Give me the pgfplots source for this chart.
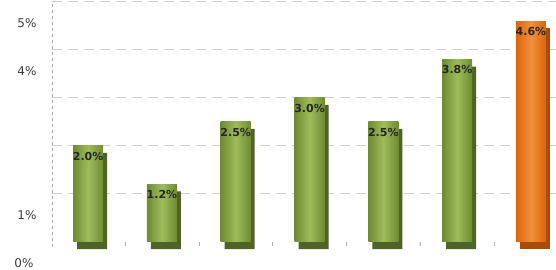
\documentclass[border=0pt]{standalone}
\usepackage{pgfplots}
\pgfplotsset{compat=1.18}
\usepackage{fontspec}
\setmainfont{DejaVu Sans}
\definecolor{gedge}{HTML}{6F8B33}
\definecolor{gmid}{HTML}{9DBD5A}
\definecolor{gshadow}{HTML}{4F6228}
\definecolor{oedge}{HTML}{DD650A}
\definecolor{omid}{HTML}{F0903C}
\definecolor{oshadow}{HTML}{A84C08}
\definecolor{gridc}{HTML}{CDCDCD}
\definecolor{labc}{HTML}{3C3C3C}
\pgfplotsset{
  front/.style={ybar, bar width=30bp, bar shift=0bp, draw=none,
    nodes near coords={\pgfmathprintnumber[fixed,fixed zerofill,precision=1]{\pgfplotspointmeta}\%},
    every node near coord/.append style={anchor=center, yshift=-10bp, text=black!85, font=\bfseries\fontsize{11bp}{13bp}\selectfont}},
  gfront/.style={front, left color=gedge, right color=gedge, middle color=gmid},
  ofront/.style={front, left color=oedge, right color=oedge, middle color=omid},
  shadow/.style={ybar, bar width=30bp, bar shift=4bp, yshift=-7bp, draw=none},
}
\begin{document}
\begin{tikzpicture}
\useasboundingbox (0,0) rectangle (556bp,270bp);
\begin{axis}[
  at={(52bp,28bp)}, anchor=south west,
  scale only axis, width=504bp, height=240bp,
  xmin=-0.49, xmax=6.34, ymin=0, ymax=5,
  clip=false,
  axis x line*=bottom, axis y line*=left,
  x axis line style={draw=none},
  y axis line style={draw=gray!70, line width=0.8bp, dash pattern=on 3bp off 3bp, shorten <=-5bp},
  xtick={0.5,1.5,2.5,3.5,4.5,5.5},
  xticklabels={,,,,,},
  xtick align=outside,
  major tick length=4bp,
  xtick style={draw=gray!60, line width=0.6bp},
  ytick={1,2,3,4,5},
  yticklabels={1\%,,,4\%,5\%},
  ytick style={draw=none},
  ymajorgrids,
  grid style={draw=gridc, line width=1bp, dash pattern=on 10bp off 6bp},
  extra y ticks={0},
  extra y tick labels={0\%},
  extra y tick style={grid=none, yticklabel style={xshift=-3bp}},
  yticklabel style={anchor=east, xshift=-12bp, yshift=-21bp, font=\fontsize{12bp}{14bp}\selectfont, text=labc},
  /pgf/number format/assume math mode=true,
]
% shadows
\addplot[shadow, fill=gshadow] coordinates {(0,2.0) (1,1.2) (2,2.5) (3,3.0) (4,2.5) (5,3.8)};
\addplot[shadow, fill=oshadow] coordinates {(6,4.6)};
% fronts, one plot per bar so that each bar has its own shading
\addplot[gfront] coordinates {(0,2.0)};
\addplot[gfront] coordinates {(1,1.2)};
\addplot[gfront] coordinates {(2,2.5)};
\addplot[gfront] coordinates {(3,3.0)};
\addplot[gfront] coordinates {(4,2.5)};
\addplot[gfront] coordinates {(5,3.8)};
\addplot[ofront] coordinates {(6,4.6)};
\end{axis}
\end{tikzpicture}
\end{document}
